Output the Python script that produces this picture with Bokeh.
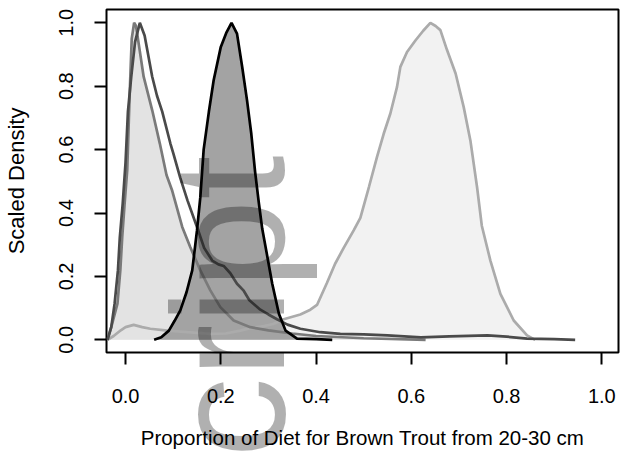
import math
from bokeh.plotting import figure
from bokeh.layouts import column
from bokeh.models import Range1d, FixedTicker, PrintfTickFormatter, Label
from bokeh.embed import file_html
from bokeh.resources import INLINE

# ---- data ----
x_ticks = [0.0, 0.2, 0.4, 0.6, 0.8, 1.0]
y_ticks = [0.0, 0.2, 0.4, 0.6, 0.8, 1.0]

# light curve with mode near 0.64
d_x = [-0.038, -0.025, -0.01, 0.0, 0.017, 0.035, 0.052, 0.088, 0.13, 0.178, 0.21, 0.241,
       0.262, 0.29, 0.31, 0.332, 0.367, 0.388, 0.402, 0.423, 0.44, 0.458, 0.479, 0.493,
       0.511, 0.528, 0.542, 0.556, 0.57, 0.577, 0.591, 0.609, 0.625, 0.64, 0.651, 0.661,
       0.675, 0.693, 0.71, 0.724, 0.738, 0.748, 0.766, 0.787, 0.815, 0.843, 0.86]
d_y = [0.0, 0.012, 0.03, 0.04, 0.047, 0.04, 0.035, 0.029, 0.024, 0.019, 0.02, 0.029,
       0.037, 0.043, 0.05, 0.065, 0.08, 0.095, 0.11, 0.18, 0.24, 0.29, 0.345, 0.385,
       0.482, 0.577, 0.65, 0.714, 0.798, 0.861, 0.908, 0.945, 0.975, 1.0, 0.99, 0.977,
       0.914, 0.84, 0.734, 0.629, 0.482, 0.36, 0.25, 0.145, 0.061, 0.014, 0.0]

# medium-grey curve with mode near 0.015
a_x = [-0.038, -0.03, -0.017, -0.011, -0.007, -0.002, 0.0035, 0.007, 0.010, 0.013, 0.018,
       0.022, 0.03, 0.038, 0.056, 0.072, 0.086, 0.098, 0.119, 0.136, 0.157, 0.178, 0.199,
       0.227, 0.262, 0.30, 0.35, 0.40, 0.50, 0.63]
a_y = [0.0, 0.04, 0.114, 0.219, 0.324, 0.429, 0.535, 0.70, 0.83, 0.95, 1.0,
       0.99, 0.91, 0.83, 0.724, 0.619, 0.52, 0.47, 0.356, 0.292, 0.219, 0.156, 0.103,
       0.061, 0.04, 0.03, 0.02, 0.012, 0.005, 0.0]

# dark-grey curve with mode near 0.03 and long tail
b_x = [-0.038, -0.03, -0.023, -0.016, -0.012, -0.006, 0.0, 0.005, 0.012, 0.02, 0.03,
       0.04, 0.056, 0.066, 0.077, 0.094, 0.10, 0.115, 0.13, 0.15, 0.165, 0.182, 0.195,
       0.206, 0.22, 0.234, 0.248, 0.26, 0.283, 0.30, 0.318, 0.34, 0.367, 0.409, 0.451,
       0.50, 0.55, 0.62, 0.68, 0.76, 0.80, 0.843, 0.90, 0.944]
b_y = [0.0, 0.04, 0.114, 0.219, 0.324, 0.429, 0.56, 0.72, 0.83, 0.94, 1.0,
       0.96, 0.83, 0.77, 0.72, 0.62, 0.59, 0.51, 0.44, 0.356, 0.29, 0.25, 0.238,
       0.233, 0.21, 0.177, 0.155, 0.125, 0.095, 0.08, 0.065, 0.048, 0.035, 0.024, 0.019,
       0.017, 0.014, 0.008, 0.011, 0.014, 0.01, 0.004, 0.002, 0.0]

# black curve with mode near 0.22
c_x = [0.06, 0.075, 0.091, 0.103, 0.115, 0.128, 0.14, 0.15, 0.157, 0.164, 0.175, 0.185,
       0.2, 0.212, 0.2225, 0.234, 0.245, 0.255, 0.264, 0.272, 0.28, 0.287, 0.298, 0.308,
       0.322, 0.336, 0.36, 0.40, 0.434]
c_y = [0.0, 0.008, 0.029, 0.06, 0.093, 0.15, 0.219, 0.345, 0.45, 0.6, 0.72, 0.819,
       0.924, 0.97, 1.0, 0.966, 0.86, 0.756, 0.65, 0.53, 0.43, 0.35, 0.26, 0.177,
       0.082, 0.029, 0.004, 0.002, 0.0]

FONT = "Liberation Sans"
W, H = 620, 459
L, R, T, B = 106, 2, 9, 107
XR = (-0.04, 1.035)
YR = (-0.04, 1.042)

p = figure(width=W, height=H, output_backend="svg", toolbar_location=None,
           x_range=Range1d(*XR), y_range=Range1d(*YR),
           min_border_left=L, min_border_right=R, min_border_top=T, min_border_bottom=B)
p.background_fill_color = "white"
p.border_fill_color = "white"
p.outline_line_color = "black"
p.outline_line_width = 2
p.grid.visible = False

def closed(xs, ys):
    return [xs[0]] + xs + [xs[-1]], [0.0] + ys + [0.0]

dx, dy = closed(d_x, d_y)
ax, ay = closed(a_x, a_y)
cx, cy = closed(c_x, c_y)
p.patch(dx, dy, fill_color="#f2f2f2", line_color=None)
p.patch(ax, ay, fill_color="#e3e3e3", line_color=None)
p.patch(cx, cy, fill_color="#a3a3a3", line_color=None)
p.line(d_x, d_y, line_color="#ababab", line_width=2.7)
p.line(a_x, a_y, line_color="#7a7a7a", line_width=2.7)
p.line(b_x, b_y, line_color="#4a4a4a", line_width=2.7)
p.line(c_x, c_y, line_color="black", line_width=2.7)

for ax_ in (p.xaxis[0], p.yaxis[0]):
    ax_.axis_line_color = None
    ax_.major_tick_line_color = "black"
    ax_.major_tick_line_width = 2
    ax_.major_tick_out = 12
    ax_.major_tick_in = 0
    ax_.minor_tick_line_color = None
    ax_.major_label_text_font = FONT
    ax_.major_label_text_font_size = "20px"
    ax_.major_label_text_color = "black"
    ax_.axis_label_text_font = FONT
    ax_.axis_label_text_font_style = "normal"
    ax_.axis_label_text_color = "black"
    ax_.formatter = PrintfTickFormatter(format="%.1f")

p.xaxis.ticker = FixedTicker(ticks=x_ticks)
p.yaxis.ticker = FixedTicker(ticks=y_ticks)
p.xaxis.axis_label = "Proportion of Diet for Brown Trout from 20-30 cm"
p.yaxis.axis_label = "Scaled Density"
p.xaxis.axis_label_text_font_size = "20.5px"
p.yaxis.axis_label_text_font_size = "22px"
p.xaxis.major_label_standoff = 24
p.yaxis.major_label_standoff = 21
p.yaxis.major_label_orientation = "vertical"
p.xaxis.axis_label_standoff = 20
p.yaxis.axis_label_standoff = 28

# transparent overlay page-wide, same data mapping, carrying the watermark
sx = (XR[1] - XR[0]) / (W - L - R)
sy = (YR[1] - YR[0]) / (H - T - B)
ov = figure(width=W, height=H, output_backend="svg", toolbar_location=None,
            x_range=Range1d(XR[0] - L * sx, XR[1] + R * sx),
            y_range=Range1d(YR[0] - B * sy, YR[1] + T * sy),
            x_axis_location=None, y_axis_location=None, min_border=0)
ov.grid.visible = False
ov.outline_line_color = None
ov.background_fill_alpha = 0
ov.border_fill_alpha = 0
ov.styles = {"position": "absolute", "top": "0px", "left": "0px", "pointer-events": "none"}
wm = Label(x=0.047, y=0.582, text="Manuscript", angle=math.pi / 2,
           text_align="right", text_baseline="alphabetic",
           text_font=FONT, text_font_size="160px", text_color="black", text_alpha=0.31)
ov.add_layout(wm)

page = column(p, ov, spacing=0)
open("out.html", "w").write(file_html(page, INLINE))
